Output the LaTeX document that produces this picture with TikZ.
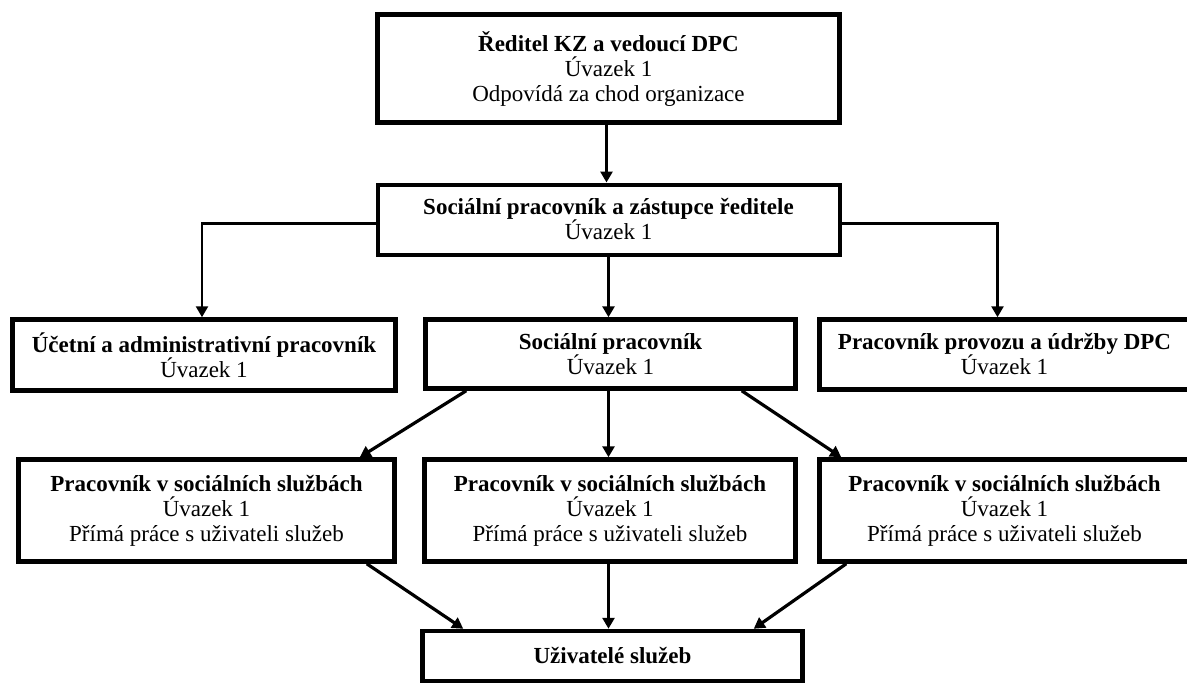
\documentclass[tikz,border=0pt]{standalone}
\usepackage{fontspec}
\setmainfont{Liberation Serif}
\usetikzlibrary{arrows.meta}

\begin{document}
\begin{tikzpicture}[x=1pt,y=-1pt,
  box/.style={draw, line width=4.5pt, inner sep=0pt, align=center,
    font=\fontsize{23}{25}\selectfont},
  arr/.style={-{Triangle[length=11pt,width=12pt]}, line width=3.2pt},
  branch/.style={-{Triangle[length=11pt,width=12pt]}, line width=2.5pt}]
\useasboundingbox (0,0) rectangle (1187,685);

% Top: director
\node[box, minimum width=462, minimum height=108] (dir) at (608.5,68.5)
  {\textbf{Ředitel KZ a vedoucí DPC}\\Úvazek 1\\Odpovídá za chod organizace};

% Deputy
\node[box, line width=4pt, minimum width=462, minimum height=70] (zast) at (608.5,219.5)
  {\textbf{Sociální pracovník a zástupce ředitele}\\Úvazek 1};

% Row 3
\node[box, minimum width=383, minimum height=71] (ucet) at (204,355)
  {\textbf{Účetní a administrativní pracovník}\\Úvazek 1};
\node[box, minimum width=370, minimum height=69] (soc) at (610.5,354)
  {\textbf{Sociální pracovník}\\Úvazek 1};
\node[box, minimum width=370, minimum height=70] (prov) at (1004.5,354.5)
  {\textbf{Pracovník provozu a údržby DPC}\\Úvazek 1};

% Row 4: direct care workers
\node[box, minimum width=376, minimum height=102] (pss1) at (206.5,510.5)
  {\textbf{Pracovník v sociálních službách}\\Úvazek 1\\Přímá práce s uživateli služeb};
\node[box, minimum width=371, minimum height=102] (pss2) at (610,510.5)
  {\textbf{Pracovník v sociálních službách}\\Úvazek 1\\Přímá práce s uživateli služeb};
\node[box, minimum width=370, minimum height=102] (pss3) at (1004.5,510.5)
  {\textbf{Pracovník v sociálních službách}\\Úvazek 1\\Přímá práce s uživateli služeb};

% Bottom: clients
\node[box, minimum width=380, minimum height=50] (uziv) at (612.5,656)
  {\textbf{Uživatelé služeb}};

% Connectors
\draw[arr] ([xshift=-2pt]dir.south) -- ([xshift=-2pt]zast.north);
\draw[branch] ([yshift=-4pt]zast.west) -| ([xshift=-2pt]ucet.north);
\draw[branch] ([yshift=-4pt]zast.east) -| ([xshift=-7pt]prov.north);
\draw[arr] (zast.south) -- ([xshift=-2pt]soc.north);

\draw[arr] ([xshift=43pt]soc.south west) -- ([xshift=-37pt]pss1.north east);
\draw[arr] ([xshift=-2pt]soc.south) -- ([xshift=-1.5pt]pss2.north);
\draw[arr] ([xshift=-56pt]soc.south east) -- ([xshift=24pt]pss3.north west);

\draw[arr] ([xshift=-30pt]pss1.south east) -- ([xshift=43pt]uziv.north west);
\draw[arr] ([xshift=-1.5pt]pss2.south) -- ([xshift=-4pt]uziv.north);
\draw[arr] ([xshift=29pt]pss3.south west) -- ([xshift=-51pt]uziv.north east);

\end{tikzpicture}
\end{document}
